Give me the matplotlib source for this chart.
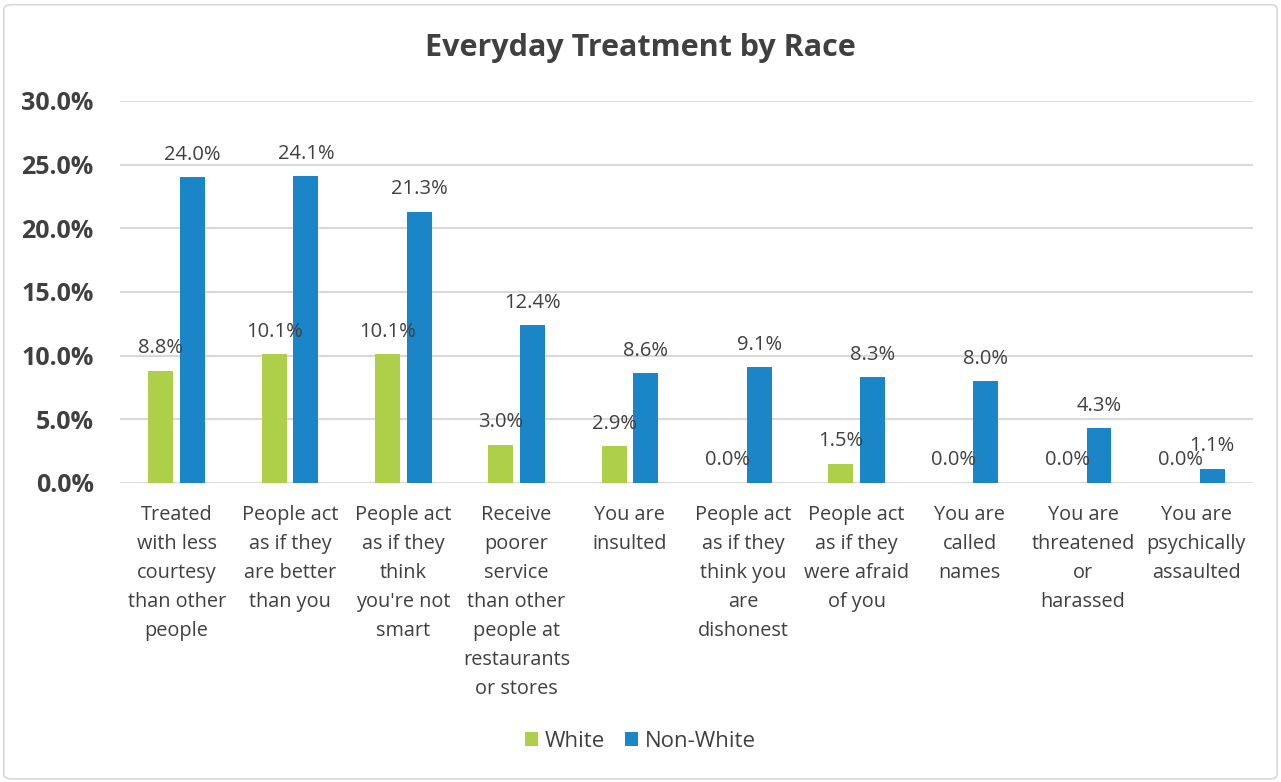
import matplotlib.pyplot as plt
import numpy as np
from matplotlib.patches import FancyBboxPatch

categories = [
    "Treated\nwith less\ncourtesy\nthan other\npeople",
    "People act\nas if they\nare better\nthan you",
    "People act\nas if they\nthink\nyou're not\nsmart",
    "Receive\npoorer\nservice\nthan other\npeople at\nrestaurants\nor stores",
    "You are\ninsulted",
    "People act\nas if they\nthink you\nare\ndishonest",
    "People act\nas if they\nwere afraid\nof you",
    "You are\ncalled\nnames",
    "You are\nthreatened\nor\nharassed",
    "You are\npsychically\nassaulted",
]
white = [8.8, 10.1, 10.1, 3.0, 2.9, 0.0, 1.5, 0.0, 0.0, 0.0]
non_white = [24.0, 24.1, 21.3, 12.4, 8.6, 9.1, 8.3, 8.0, 4.3, 1.1]
yticks = [0, 5, 10, 15, 20, 25, 30]

GREEN = "#ADCF4A"
BLUE = "#1A86C8"
TXT = "#404040"

plt.rcParams['font.family'] = ['Open Sans', 'DejaVu Sans']

fig = plt.figure(figsize=(12.81, 7.82), dpi=100)
fig.patches.append(FancyBboxPatch((0.003, 0.004), 0.994, 0.99, boxstyle="round,pad=0,rounding_size=0.006",
                                  transform=fig.transFigure, fill=False, ec="#D9D9D9", lw=1.2))
ax = fig.add_axes([0.0937, 0.3824, 0.8845, 0.4885])

x = np.arange(len(categories))
w = 0.22
off = 0.14
b1 = ax.bar(x - off, white, w, color=GREEN, label="White", zorder=3)
b2 = ax.bar(x + off, non_white, w, color=BLUE, label="Non-White", zorder=3)

for bars, vals in ((b1, white), (b2, non_white)):
    for r, v in zip(bars, vals):
        ax.annotate(f"{v:.1f}%", (r.get_x() + r.get_width() / 2, v), xytext=(0, 9),
                    textcoords="offset points", ha="center", va="bottom",
                    fontsize=14.5, color=TXT, zorder=4)

ax.set_xlim(-0.5, len(categories) - 0.5)
ax.set_ylim(0, 30)
ax.set_yticks(yticks)
ax.set_yticklabels([f"{t:.1f}%" for t in yticks], fontsize=18, fontweight="bold", color=TXT)
ax.set_xticks(x)
ax.set_xticklabels(categories, fontsize=14.3, color=TXT, linespacing=1.6, va="top")
ax.tick_params(axis="both", length=0)
ax.tick_params(axis="y", pad=19)
ax.tick_params(axis="x", pad=16)
ax.grid(axis="y", color="#D9D9D9", lw=1.5, zorder=0)
for s in ax.spines.values():
    s.set_visible(False)

fig.text(0.5, 0.938, "Everyday Treatment by Race", ha="center", va="center",
         fontsize=22, fontweight="bold", color=TXT)

fig.legend(handles=[b1, b2], loc="center", bbox_to_anchor=(0.5, 0.052), ncol=2, frameon=False,
           fontsize=16, handlelength=0.6, handleheight=0.6, handletextpad=0.3, columnspacing=0.9,
           labelcolor=TXT)

fig.savefig("out.png", dpi=100)
